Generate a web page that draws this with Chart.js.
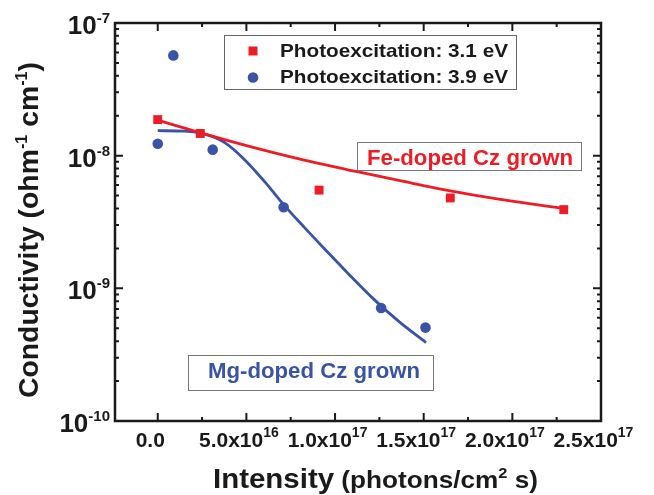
<!DOCTYPE html>
<html>
<head>
<meta charset="utf-8">
<script src="https://cdn.jsdelivr.net/npm/chart.js@4.4.1/dist/chart.umd.min.js"></script>
<style>
    html, body { margin: 0; padding: 0; background: #fff; }
    #wrap { width: 654px; height: 495px; position: relative; }
</style>
</head>
<body>
<div id="wrap"><canvas id="chart"></canvas></div>
<script>
// measured points, photoexcitation 3.1 eV (Fe-doped)
const fe31X = [0, 2.4e16, 9.1e16, 1.65e17, 2.29e17];
const fe31Y = [1.87e-8, 1.47e-8, 5.5e-9, 4.8e-9, 3.92e-9];
// measured points, photoexcitation 3.9 eV (Mg-doped)
const mg39X = [0, 8.8e15, 3.1e16, 7.1e16, 1.26e17, 1.51e17];
const mg39Y = [1.23e-8, 5.7e-8, 1.11e-8, 4.08e-9, 7.1e-10, 5.06e-10];
// fit curves
const feFitX = [0, 2.38e16, 5.22e16, 8.03e16, 1.125e17, 1.366e17, 1.642e17, 1.923e17, 2.3e17];
const feFitY = [1.852e-8, 1.491e-8, 1.169e-8, 9.41e-9, 7.57e-9, 6.48e-9, 5.45e-9, 4.7e-9, 3.99e-9];
const mgFitX = [0, 1.53e16, 2.66e16, 3.78e16, 4.9e16, 6.03e16, 7.15e16, 8.28e16, 9.4e16, 1.08e17, 1.221e17, 1.361e17, 1.513e17];
const mgFitY = [1.543e-8, 1.53e-8, 1.452e-8, 1.253e-8, 9.33e-9, 6.37e-9, 4.2e-9, 2.87e-9, 1.99e-9, 1.268e-9, 8.22e-10, 5.61e-10, 3.9e-10];

// axis ticks
const xTicks = [0, 5e16, 1e17, 1.5e17, 2e17, 2.5e17];
const xTickMant = ['0.0', '5.0', '1.0', '1.5', '2.0', '2.5'];
const xTickExp = ['', '16', '17', '17', '17', '17'];
const xMinor = [2.5e16, 7.5e16, 1.25e17, 1.75e17, 2.25e17];
const yTicks = [1e-10, 1e-9, 1e-8, 1e-7];
const yTickExp = ['-10', '-9', '-8', '-7'];

const legendLabels = ['Photoexcitation: 3.1 eV', 'Photoexcitation: 3.9 eV'];

const FONT = '"Liberation Sans", Arial, Helvetica, sans-serif';
const RED = '#ee1c25';
const BLUE = '#3953a6';
const INK = '#1a1a1a';

const toPts = (xs, ys) => xs.map((x, i) => ({ x: x, y: ys[i] }));
const font = (size) => 'bold ' + size + 'px ' + FONT;

// parts: [text, size, rise]
const runWidth = (ctx, parts) => {
    let w = 0;
    parts.forEach(p => { ctx.font = font(p[1]); w += ctx.measureText(p[0]).width; });
    return w;
};

const drawRun = (ctx, parts, x, y, sx) => {
    ctx.save();
    ctx.translate(x, y);
    ctx.scale(sx || 1, 1);
    ctx.textAlign = 'left';
    ctx.textBaseline = 'alphabetic';
    let cx = 0;
    parts.forEach(p => {
        ctx.font = font(p[1]);
        ctx.fillText(p[0], cx, -(p[2] || 0));
        cx += ctx.measureText(p[0]).width;
    });
    ctx.restore();
};

const fitRun = (ctx, parts, x, y, width) => {
    const w = runWidth(ctx, parts);
    drawRun(ctx, parts, x, y, width / w);
};

const decor = {
    id: 'decor',
    afterDatasetsDraw(chart) {
        const ctx = chart.ctx;
        const a = chart.chartArea;
        const xs = chart.scales.x;
        const ys = chart.scales.y;

        ctx.save();
        ctx.strokeStyle = INK;
        ctx.lineWidth = 2;

        // ticks, all pointing inward
        const vTick = (px, len) => {
            ctx.beginPath();
            ctx.moveTo(px, a.bottom); ctx.lineTo(px, a.bottom - len);
            ctx.moveTo(px, a.top); ctx.lineTo(px, a.top + len);
            ctx.stroke();
        };
        const hTick = (py, len) => {
            ctx.beginPath();
            ctx.moveTo(a.left, py); ctx.lineTo(a.left + len, py);
            ctx.moveTo(a.right, py); ctx.lineTo(a.right - len, py);
            ctx.stroke();
        };
        xTicks.forEach(v => vTick(xs.getPixelForValue(v), 8));
        xMinor.forEach(v => vTick(xs.getPixelForValue(v), 4));
        yTicks.forEach(v => hTick(ys.getPixelForValue(v), 8));
        for (let d = -10; d < -7; d++) {
            for (let m = 2; m <= 9; m++) hTick(ys.getPixelForValue(m * Math.pow(10, d)), 4);
        }

        // frame
        ctx.lineWidth = 2.5;
        ctx.strokeRect(a.left, a.top, a.right - a.left, a.bottom - a.top);

        // tick labels
        ctx.fillStyle = INK;
        xTicks.forEach((v, i) => {
            const parts = xTickExp[i]
                ? [[xTickMant[i] + 'x10', 21, 0], [xTickExp[i], 14, 10]]
                : [[xTickMant[i], 21, 0]];
            const w = runWidth(ctx, parts);
            drawRun(ctx, parts, xs.getPixelForValue(v) - 7.5 - w / 2, 447);
        });
        yTicks.forEach((v, i) => {
            const parts = [['10', 26, 0], [yTickExp[i], 15, 11]];
            const w = runWidth(ctx, parts);
            drawRun(ctx, parts, 110 - w, ys.getPixelForValue(v) + 11);
        });

        // axis titles
        fitRun(ctx, [['Intensity', 27, 0], [' (photons/cm', 24, 0], ['2', 15, 10], [' s)', 24, 0]], 213, 488, 325);
        ctx.save();
        ctx.translate(37.5, 398);
        ctx.rotate(-Math.PI / 2);
        fitRun(ctx, [['Conductivity (ohm', 28, 0], ['-1', 16, 11], [' cm', 28, 0], ['-1', 16, 11], [')', 28, 0]], 0, 0, 336);
        ctx.restore();

        // legend
        ctx.strokeStyle = '#666';
        ctx.lineWidth = 1;
        ctx.strokeRect(224.5, 35.5, 292, 54);
        ctx.fillStyle = RED;
        ctx.fillRect(253 - 4.5, 51 - 4.5, 9, 9);
        ctx.fillStyle = BLUE;
        ctx.beginPath();
        ctx.arc(253, 77.5, 5.3, 0, Math.PI * 2);
        ctx.fill();
        ctx.fillStyle = INK;
        fitRun(ctx, [[legendLabels[0], 19, 0]], 280, 56.7, 228);
        fitRun(ctx, [[legendLabels[1], 19, 0]], 280, 83.3, 228);

        // sample labels
        ctx.strokeStyle = '#777';
        ctx.strokeRect(357.5, 142.5, 224, 28);
        ctx.fillStyle = RED;
        fitRun(ctx, [['Fe-doped Cz grown', 22, 0]], 367, 165, 206);
        ctx.strokeRect(188.5, 355.5, 245, 35);
        ctx.fillStyle = BLUE;
        fitRun(ctx, [['Mg-doped Cz grown', 22, 0]], 208, 378.3, 212);

        ctx.restore();
    }
};

new Chart(document.getElementById('chart'), {
    type: 'scatter',
    data: {
        datasets: [
            {
                type: 'line',
                label: 'Fe fit',
                data: toPts(feFitX, feFitY),
                borderColor: RED,
                borderWidth: 2.8,
                pointRadius: 0,
                cubicInterpolationMode: 'monotone',
                fill: false,
            },
            {
                type: 'line',
                label: 'Mg fit',
                data: toPts(mgFitX, mgFitY),
                borderColor: BLUE,
                borderWidth: 2.8,
                pointRadius: 0,
                cubicInterpolationMode: 'monotone',
                fill: false,
            },
            {
                label: legendLabels[0],
                data: toPts(fe31X, fe31Y),
                pointStyle: 'rect',
                pointRadius: 6.3,
                backgroundColor: RED,
                borderColor: RED,
                borderWidth: 0,
            },
            {
                label: legendLabels[1],
                data: toPts(mg39X, mg39Y),
                pointStyle: 'circle',
                pointRadius: 5.3,
                backgroundColor: BLUE,
                borderColor: BLUE,
                borderWidth: 0,
            },
        ]
    },
    options: {
        responsive: true,
        maintainAspectRatio: false,
        animation: false,
        layout: { padding: { left: 115, top: 23, right: 53, bottom: 74 } },
        scales: {
            x: { type: 'linear', min: -2.41e16, max: 2.5e17, display: false },
            y: { type: 'logarithmic', min: 1e-10, max: 1e-7, display: false },
        },
        plugins: {
            legend: { display: false },
            tooltip: { enabled: false },
        }
    },
    plugins: [decor]
});
</script>
</body>
</html>
